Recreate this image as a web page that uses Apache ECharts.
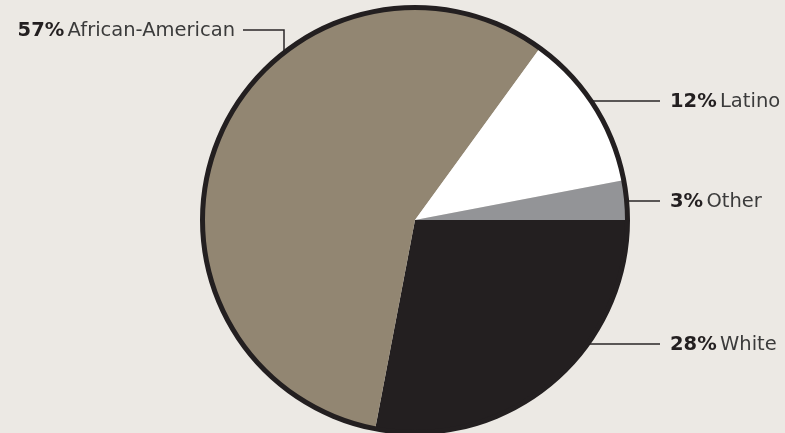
<!DOCTYPE html>
<html>
<head>
<meta charset="utf-8">
<script src="https://cdn.jsdelivr.net/npm/echarts@6/dist/echarts.min.js"></script>
<style>
html,body{margin:0;padding:0;background:#ece9e4;}
#c{width:785px;height:433px;}
</style>
</head>
<body>
<div id="c"></div>
<script>
const categories = ['White', 'African-American', 'Latino', 'Other'];
const values = [28, 57, 12, 3];
const colors = ['#231f20', '#928672', '#ffffff', '#939497'];

// layout only: label anchor settings per slice
const CX = 415, CY = 220, R = 212;
const labelSpec = [
  {side: 'right', y: 344},
  {side: 'left', x: 284, y: 30},
  {side: 'right', y: 101},
  {side: 'right', y: 201}
];

const chart = echarts.init(document.getElementById('c'));
chart.setOption({
  backgroundColor: '#ece9e4',
  animation: false,
  series: [
    {
      type: 'pie',
      center: [CX, CY],
      radius: [0, R],
      startAngle: 0,
      clockwise: true,
      silent: true,
      avoidLabelOverlap: false,
      emphasis: {disabled: true},
      itemStyle: {borderWidth: 0},
      data: categories.map((n, i) => ({name: n, value: values[i], itemStyle: {color: colors[i]}})),
      label: {
        show: true,
        overflow: 'none',
        width: 400,
        formatter: p => `{p|${p.value}%} {n|${p.name}}`,
        rich: {
          p: {fontFamily: 'DejaVu Sans', fontSize: 19.5, fontWeight: 'bold', color: '#231f20'},
          n: {fontFamily: 'DejaVu Sans', fontSize: 19.5, color: '#3b3b3b'}
        }
      },
      labelLine: {show: true, lineStyle: {color: '#2a2627', width: 1.5}},
      labelLayout: function (params) {
        const s = labelSpec[params.dataIndex];
        if (s.side === 'right') {
          const ax = CX + Math.sqrt(R * R - (s.y - CY) * (s.y - CY));
          return {
            x: 670, y: s.y + 1, align: 'left', verticalAlign: 'middle',
            labelLinePoints: [[ax, s.y], [659, s.y], [660, s.y]]
          };
        } else {
          const ay = CY - Math.sqrt(R * R - (s.x - CX) * (s.x - CX));
          return {
            x: 235, y: s.y + 1, align: 'right', verticalAlign: 'middle',
            labelLinePoints: [[s.x, ay], [s.x, s.y], [243, s.y]]
          };
        }
      }
    },
    {
      type: 'pie',
      center: [CX, CY],
      radius: [R - 2, R + 3],
      silent: true,
      emphasis: {disabled: true},
      label: {show: false},
      labelLine: {show: false},
      data: [{value: 1, itemStyle: {color: '#231f20'}}]
    }
  ]
});
</script>
</body>
</html>
